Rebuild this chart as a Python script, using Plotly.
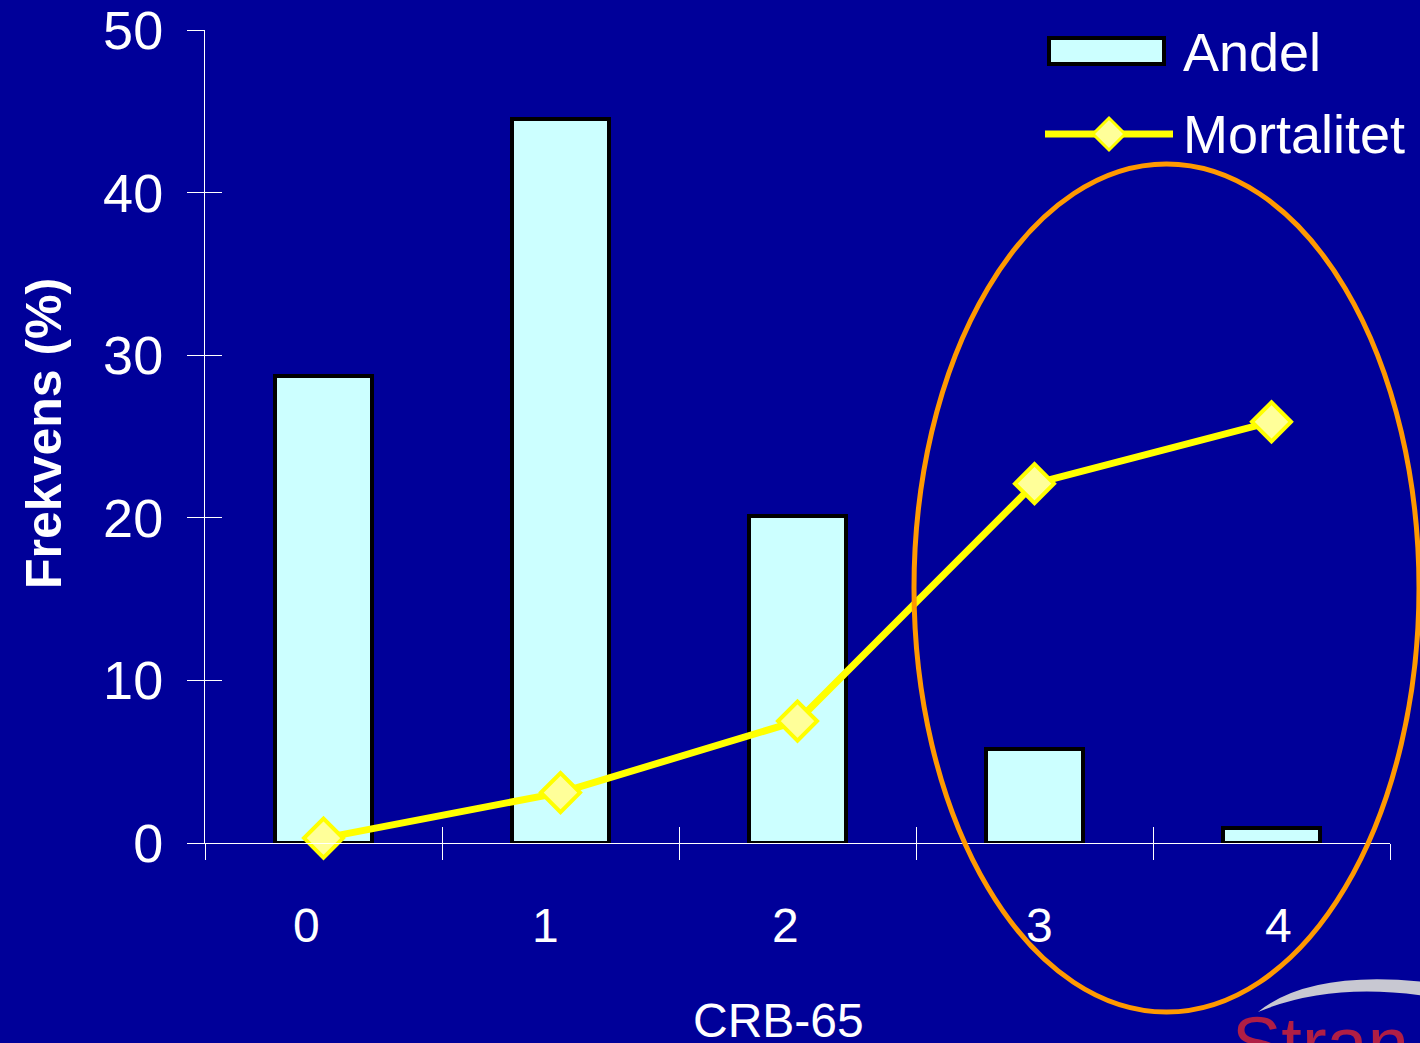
import plotly.graph_objects as go

# --- data -------------------------------------------------------------
categories = [0, 1, 2, 3, 4]
category_labels = ["0", "1", "2", "3", "4"]
andel = [28.7, 44.5, 20.1, 5.8, 0.9]          # share of patients, %
mortalitet = [0.3, 3.1, 7.5, 22.1, 25.9]      # mortality, %
y_ticks = [0, 10, 20, 30, 40, 50]
boundaries = [-0.5, 0.5, 1.5, 2.5, 3.5, 4.5]

# --- page geometry ------------------------------------------------------
W, H = 1420, 1043
ML, MR, MT, MB = 205, 30, 30, 200
PW = W - ML - MR
PH = H - MT - MB

BG = "#000099"
BAR = "#CCFFFF"
LINE = "#FFFF00"
DIAMOND_FILL = "#FFFF99"
FONT = "Liberation Sans, Arial, sans-serif"
FS = 54


def px(x):
    """page pixel x -> paper x"""
    return (x - ML) / PW


def py(y):
    """page pixel y (from top) -> paper y"""
    return (H - MB - y) / PH


fig = go.Figure()

fig.add_trace(go.Bar(
    x=categories, y=andel, name="Andel", width=0.41,
    marker=dict(color=BAR, line=dict(color="black", width=4)),
    showlegend=False,
))
fig.add_trace(go.Scatter(
    x=categories, y=mortalitet, name="Mortalitet", mode="lines+markers",
    line=dict(color=LINE, width=7),
    marker=dict(symbol="diamond", size=30, color=DIAMOND_FILL,
                line=dict(color=LINE, width=4)),
    showlegend=False, cliponaxis=False,
))
# companion subplot carrying the inner half of the crossing tick marks
fig.add_trace(go.Scatter(x=[None], y=[None], xaxis="x2", yaxis="y2",
                         showlegend=False, hoverinfo="skip"))

axis_common = dict(showgrid=False, zeroline=False, automargin=False)
fig.update_layout(
    width=W, height=H,
    margin=dict(l=ML, r=MR, t=MT, b=MB, autoexpand=False),
    paper_bgcolor=BG, plot_bgcolor=BG,
    font=dict(family=FONT, color="white", size=FS),
    bargap=0,
    xaxis=dict(range=[-0.5, 4.5], tickvals=boundaries, showticklabels=False,
               ticks="outside", ticklen=16, tickcolor="white", tickwidth=1,
               showline=True, linecolor="white", linewidth=1, **axis_common),
    yaxis=dict(range=[0, 50], tickvals=y_ticks, ticks="outside", ticklen=17,
               tickcolor="white", tickwidth=1, showline=True,
               linecolor="white", linewidth=1,
               tickfont=dict(size=FS, color="white", family=FONT),
               ticklabelstandoff=13, ticklabeloverflow="allow",
               **axis_common),
    xaxis2=dict(range=[-0.5, 4.5], tickvals=boundaries, showticklabels=False,
                ticks="inside", ticklen=16, tickcolor="white", tickwidth=1,
                overlaying="x", anchor="y2", showline=False, **axis_common),
    yaxis2=dict(range=[0, 50], tickvals=y_ticks, showticklabels=False,
                ticks="inside", ticklen=17, tickcolor="white", tickwidth=1,
                overlaying="y", anchor="x2", showline=False, **axis_common),
)

annotations = []
# category labels (slightly offset from the bar centres, as laid out on the slide)
label_shift = [-17, -15, -12, 5, 7]
for c, lab, dx in zip(categories, category_labels, label_shift):
    annotations.append(dict(x=c, y=py(925), xref="x", yref="paper", text=lab,
                            xshift=dx, showarrow=False, xanchor="center",
                            yanchor="middle",
                            font=dict(size=48, color="white", family=FONT)))
# axis titles
annotations.append(dict(x=px(778), y=py(1021), xref="paper", yref="paper",
                        text="CRB-65", showarrow=False, xanchor="center",
                        yanchor="middle",
                        font=dict(size=48, color="white", family=FONT)))
annotations.append(dict(x=px(44), y=py(434), xref="paper", yref="paper",
                        text="<b>Frekvens (%)</b>", textangle=-90,
                        showarrow=False, xanchor="center", yanchor="middle",
                        font=dict(size=50, color="white", family=FONT)))
# legend labels
annotations.append(dict(x=px(1181), y=py(52), xref="paper", yref="paper",
                        text="Andel", showarrow=False, xanchor="left",
                        yanchor="middle",
                        font=dict(size=FS, color="white", family=FONT)))
annotations.append(dict(x=px(1181), y=py(134), xref="paper", yref="paper",
                        text="Mortalitet", showarrow=False, xanchor="left",
                        yanchor="middle",
                        font=dict(size=FS, color="white", family=FONT)))
# logo lettering in the corner
annotations.append(dict(x=px(1230), y=py(1000), xref="paper", yref="paper",
                        text="Stran", showarrow=False, xanchor="left",
                        yanchor="top",
                        font=dict(size=74, color="#B01E45", family=FONT)))
fig.update_layout(annotations=annotations)


def diamond(cx, cy, r):
    return (f"M {px(cx - r)} {py(cy)} L {px(cx)} {py(cy - r)} "
            f"L {px(cx + r)} {py(cy)} L {px(cx)} {py(cy + r)} Z")


shapes = [
    # legend: bar swatch
    dict(type="rect", xref="paper", yref="paper",
         x0=px(1049), x1=px(1164), y0=py(64), y1=py(38),
         fillcolor=BAR, line=dict(color="black", width=4)),
    # legend: line swatch with diamond
    dict(type="line", xref="paper", yref="paper",
         x0=px(1045), x1=px(1173), y0=py(134), y1=py(134),
         line=dict(color=LINE, width=7)),
    dict(type="path", xref="paper", yref="paper", path=diamond(1109, 134, 16),
         fillcolor=DIAMOND_FILL, line=dict(color=LINE, width=3)),
    # highlight ring around the high-risk groups
    dict(type="circle", xref="paper", yref="paper", layer="above",
         x0=px(914), x1=px(1419), y0=py(1012), y1=py(164),
         line=dict(color="#FF9900", width=5)),
    # logo swoosh
    dict(type="path", xref="paper", yref="paper",
         path=(f"M {px(1258)} {py(1012)} "
               f"Q {px(1310)} {py(970)} {px(1425)} {py(982)} "
               f"L {px(1425)} {py(996)} "
               f"Q {px(1330)} {py(982)} {px(1258)} {py(1012)} Z"),
         fillcolor="#C8C8D2", line=dict(width=0)),
]
fig.update_layout(shapes=shapes)

fig.write_html("out.html")
